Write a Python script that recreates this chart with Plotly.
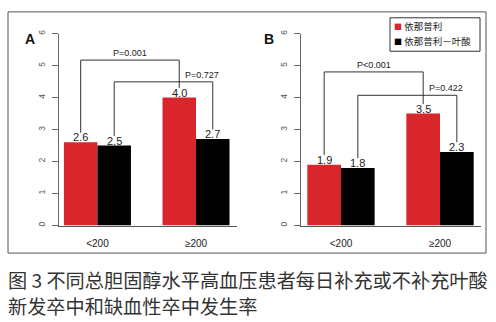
import plotly.graph_objects as go

# Data
categories = ["<200", "≥200"]
series_names = ["依那普利", "依那普利－叶酸"]
panel_a_enalapril = [2.6, 4.0]
panel_a_folic = [2.5, 2.7]
panel_b_enalapril = [1.9, 3.5]
panel_b_folic = [1.8, 2.3]
p_labels_a = ["P=0.001", "P=0.727"]
p_labels_b = ["P<0.001", "P=0.422"]
y_ticks = [0, 1, 2, 3, 4, 5, 6]
caption_lines = ["图 3 不同总胆固醇水平高血压患者每日补充或不补充叶酸",
                 "新发卒中和缺血性卒中发生率"]

RED = "#d8262c"
BLACK = "#000000"
W, H = 496, 322
FONT = "Liberation Sans, Arial, Noto Sans CJK SC, sans-serif"
CJK = "Noto Sans CJK SC, sans-serif"

BARGAP = 0.32
HALF = (1 - BARGAP) / 4  # offset of each bar centre from its category

fig = go.Figure()


def px_x(v):
    return v / W


def px_y(v):
    return 1 - v / H


panels = [
    ("x", "y", panel_a_enalapril, panel_a_folic, p_labels_a, [5.17, 4.49]),
    ("x2", "y2", panel_b_enalapril, panel_b_folic, p_labels_b, [4.80, 4.07]),
]

for xr, yr, red_vals, black_vals, plabs, tops in panels:
    fig.add_trace(go.Bar(x=categories, y=red_vals, name=series_names[0],
                         marker=dict(color=RED, line_width=0),
                         xaxis=xr, yaxis=yr, showlegend=False))
    fig.add_trace(go.Bar(x=categories, y=black_vals, name=series_names[1],
                         marker=dict(color=BLACK, line_width=0),
                         xaxis=xr, yaxis=yr, showlegend=False))
    # value labels above bars
    for i in range(len(categories)):
        for vals, off in ((red_vals, -HALF), (black_vals, HALF)):
            fig.add_annotation(x=i + off, y=vals[i], xref=xr, yref=yr,
                               text=f"{vals[i]:.1f}", showarrow=False,
                               yanchor="bottom", yshift=-3,
                               font=dict(size=11, color="#222", family=FONT))
    # significance brackets: red vs red, black vs black
    for k, (off, top, lab) in enumerate(zip((-HALF, HALF), tops, plabs)):
        vals = red_vals if k == 0 else black_vals
        x0, x1 = 0 + off, 1 + off
        fig.add_shape(type="path",
                      path=f"M {x0} {vals[0] + 0.3} L {x0} {top} L {x1} {top} L {x1} {vals[1] + 0.3}",
                      xref=xr, yref=yr, line=dict(color="#333", width=1))
        lx = (x0 + x1) / 2 if k == 0 else 1.06
        fig.add_annotation(x=lx, y=top, xref=xr, yref=yr, text=lab,
                           showarrow=False, yanchor="bottom", yshift=0,
                           font=dict(size=9, color="#222", family=FONT))

axis_common_x = dict(type="category", showgrid=False, zeroline=False,
                     showline=True, linecolor="#555", linewidth=1,
                     ticks="", ticklabelstandoff=8,
                     tickfont=dict(size=10, color="#222", family=FONT),
                     fixedrange=True)
axis_common_y = dict(range=[0, 6], tickvals=y_ticks, showgrid=False,
                     zeroline=False, showline=True, linecolor="#666",
                     linewidth=1, ticks="outside", ticklen=6, tickcolor="#666",
                     tickangle=-90, ticklabelstandoff=4,
                     tickfont=dict(size=8.5, color="#555", family=FONT))

y_dom = [px_y(225), px_y(30)]
fig.update_layout(
    width=W, height=H,
    margin=dict(l=0, r=0, t=0, b=0),
    paper_bgcolor="white", plot_bgcolor="white",
    barmode="group", bargap=BARGAP, bargroupgap=0,
    xaxis=dict(domain=[px_x(59), px_x(237)], range=[-0.39, 1.416], **axis_common_x),
    yaxis=dict(domain=y_dom, anchor="x", **axis_common_y),
    xaxis2=dict(domain=[px_x(301), px_x(481)], range=[-0.404, 1.414],
                anchor="y2", **axis_common_x),
    yaxis2=dict(domain=y_dom, anchor="x2", **axis_common_y),
    showlegend=False,
)

# outer frame
fig.add_shape(type="rect", xref="paper", yref="paper",
              x0=px_x(8), x1=px_x(486), y0=px_y(253), y1=px_y(8),
              line=dict(color="#555", width=1))

# panel letters
for letter, x in (("A", 23), ("B", 269)):
    fig.add_annotation(x=px_x(x), y=px_y(25), xref="paper", yref="paper",
                       text=f"<b>{letter}</b>", showarrow=False,
                       font=dict(size=14, color="#111", family=FONT))

# legend box
fig.add_shape(type="rect", xref="paper", yref="paper",
              x0=px_x(390), x1=px_x(480), y0=px_y(48), y1=px_y(14),
              line=dict(color="#333", width=1), fillcolor="white")
for name, color, yc in ((series_names[0], RED, 22), (series_names[1], BLACK, 38)):
    fig.add_annotation(x=px_x(392), y=px_y(yc), xref="paper", yref="paper",
                       xanchor="left", yanchor="middle", showarrow=False,
                       text=f"<span style='color:{color};font-size:8px'>■</span> {name}",
                       font=dict(size=9.5, color="#222", family=CJK))

# caption
for line, yc in zip(caption_lines, (280, 307)):
    fig.add_annotation(x=px_x(6), y=px_y(yc), xref="paper", yref="paper",
                       xanchor="left", yanchor="middle", showarrow=False,
                       text=line, font=dict(size=19.2, color="#333", family=CJK))

fig.write_html("out.html")
